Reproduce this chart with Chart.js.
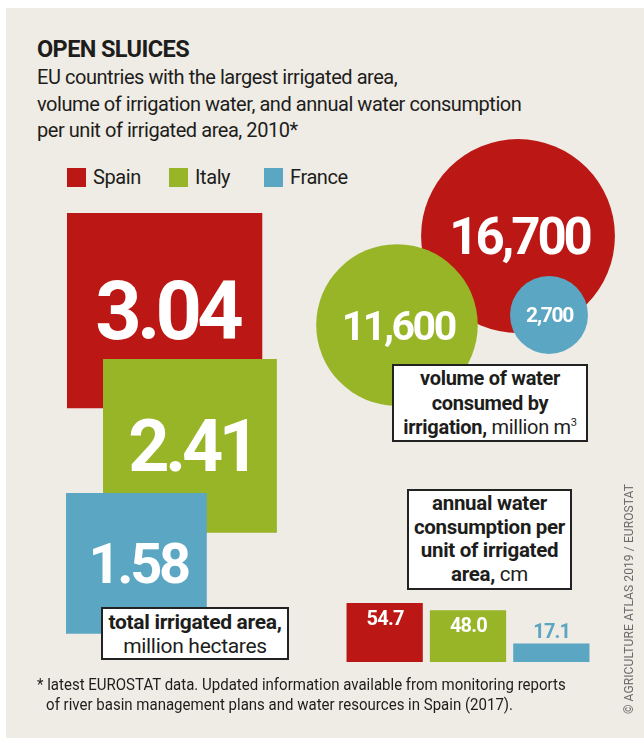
<!DOCTYPE html>
<html>
<head>
<meta charset="utf-8">
<script src="https://cdn.jsdelivr.net/npm/chart.js@4.4.1/dist/chart.umd.min.js"></script>
<style>
  body { margin: 0; background: #fff; font-family: Roboto, "Liberation Sans", sans-serif; color: #1d1d1b; }
  #page { position: relative; width: 644px; height: 738px; overflow: hidden; }
  #panel { position: absolute; left: 6px; top: 8px; right: 0; bottom: 0; background: #efebe5; }
  canvas { position: absolute; }
  .txt { position: absolute; white-space: nowrap; }
  .title { left: 37px; top: 37px; font-size: 23.5px; line-height: 24px; font-weight: 700; letter-spacing: -0.6px; }
  .sub { left: 37px; top: 64px; font-size: 20px; line-height: 26.5px; letter-spacing: -0.45px; }
  .legend { top: 167px; height: 21px; font-size: 20px; line-height: 21px; letter-spacing: -0.4px; }
  .legend i { position: absolute; top: 1px; width: 19px; height: 19px; }
  .legend span { position: absolute; left: 26px; }
  .box { position: absolute; box-sizing: border-box; border: 2px solid #222; background: #fff;
         text-align: center; white-space: nowrap; letter-spacing: -0.3px; }
  .box b { font-weight: 700; }
  .note { left: 37px; top: 675px; font-size: 16.5px; line-height: 20px; transform: scaleX(0.91); transform-origin: 0 0; }
  .note .l2 { padding-left: 10px; }
  .credit { left: 622px; top: 714px; width: 210px; font-size: 12px; line-height: 14px; color: #6b6b6b;
            transform: rotate(-90deg); transform-origin: 0 0; letter-spacing: 0.1px; }
</style>
</head>
<body>
<div id="page">
  <div id="panel"></div>

  <div class="txt title">OPEN SLUICES</div>
  <div class="txt sub">EU countries with the largest irrigated area,<br>volume of irrigation water, and annual water consumption<br>per unit of irrigated area, 2010*</div>

  <div id="legend"></div>

  <canvas id="shapes" width="644" height="738" style="left:0;top:0;width:644px;height:738px"></canvas>
  <canvas id="bars" width="250" height="70" style="left:343px;top:592px;width:250px;height:70px"></canvas>

  <div class="box" style="left:101px;top:607px;width:188px;height:53px;padding-top:1px;font-size:21px;line-height:24px">
    <b>total irrigated area,</b><br>million hectares</div>
  <div class="box" style="left:392px;top:364px;width:196px;height:78px;padding-top:0;font-size:20px;line-height:24.5px">
    <b>volume of water<br>consumed by<br>irrigation,</b> million m<sup style="font-size:11px;line-height:0;vertical-align:8px">3</sup></div>
  <div class="box" style="left:407px;top:489px;width:165px;height:101px;padding-top:1px;font-size:20.5px;line-height:23.7px">
    <b>annual water<br>consumption per<br>unit of irrigated<br>area,</b> cm</div>

  <div class="txt note">* latest EUROSTAT data. Updated information available from monitoring reports<br><span class="l2">of river basin management plans and water resources in Spain (2017).</span></div>
  <div class="txt credit">© AGRICULTURE ATLAS 2019 / EUROSTAT</div>
</div>

<script>
// Data, 2010 (EUROSTAT)
const countries    = ["Spain", "Italy", "France"];
const areaValues   = [3.04, 2.41, 1.58];        // total irrigated area, million ha
const volumeValues = [16700, 11600, 2700];      // water consumed by irrigation, million m3
const depthValues  = [54.7, 48.0, 17.1];        // annual consumption per unit area, cm

// Styles and layout
const colors   = ["#bb1714", "#97b526", "#5ba6c2"];
const AREA_PX  = 112;    // square side per sqrt(million ha)
const VOL_PX   = 0.75;   // circle radius per sqrt(million m3)
const BAR_PX   = 1.08;   // bar height per cm
const squareCorners = [[67, 213], [103, 359], [66, 493]];
const circleCentres = [[518, 236], [397, 325], [549, 315]];
const squareFont = [81, 72, 56];
const circleFont = [51, 41, 21];
const legendX    = [67, 169, 264];

// Legend
document.getElementById("legend").innerHTML = countries.map((c, i) => `
  <div class="txt legend" style="left:${legendX[i]}px">
    <i style="background:${colors[i]}"></i><span>${c}</span>
  </div>`).join("");

// White value labels centred on each shape
const shapeLabels = {
  id: "shapeLabels",
  afterDatasetsDraw(chart) {
    const ctx = chart.ctx;
    chart.data.datasets.forEach((ds, i) => {
      chart.getDatasetMeta(i).data.forEach((el, j) => {
        const size = ds.fontSizes[j];
        const ls = -0.06 * size;
        ctx.save();
        ctx.font = `700 ${size}px Roboto, "Liberation Sans", sans-serif`;
        ctx.letterSpacing = `${ls}px`;
        ctx.fillStyle = "#fff";
        ctx.textAlign = "center";
        ctx.fillText(ds.texts[j], el.x - ls / 2, el.y + size * 0.355);
        ctx.restore();
      });
    });
  }
};

new Chart(document.getElementById("shapes"), {
  type: "bubble",
  data: {
    datasets: [
      {
        data: areaValues.map((v, i) => {
          const side = Math.sqrt(v) * AREA_PX;
          return { x: squareCorners[i][0] + side / 2, y: squareCorners[i][1] + side / 2, r: side / Math.SQRT2 };
        }),
        backgroundColor: colors, pointStyle: "rect", borderWidth: 0, clip: false,
        texts: areaValues.map(v => v.toFixed(2)), fontSizes: squareFont
      },
      {
        data: volumeValues.map((v, i) => ({ x: circleCentres[i][0], y: circleCentres[i][1], r: Math.sqrt(v) * VOL_PX })),
        backgroundColor: colors, borderWidth: 0, clip: false,
        texts: volumeValues.map(v => v.toLocaleString("en-US")), fontSizes: circleFont
      }
    ]
  },
  options: {
    responsive: false, animation: false, events: [],
    layout: { padding: 0, autoPadding: false },
    plugins: { legend: { display: false }, tooltip: { enabled: false } },
    scales: {
      x: { type: "linear", min: 0, max: 644, display: false },
      y: { type: "linear", min: 0, max: 738, reverse: true, display: false }
    }
  },
  plugins: [shapeLabels]
});

// Bar labels: inside the bar when it is tall enough, above it otherwise
const barLabels = {
  id: "barLabels",
  afterDatasetsDraw(chart) {
    const ctx = chart.ctx;
    chart.getDatasetMeta(0).data.forEach((el, i) => {
      const inside = el.base - el.y > 30;
      ctx.save();
      ctx.font = `700 20px Roboto, "Liberation Sans", sans-serif`;
      ctx.letterSpacing = "-0.8px";
      ctx.textAlign = "center";
      ctx.fillStyle = inside ? "#fff" : colors[i];
      ctx.fillText(depthValues[i].toFixed(1), el.x + 0.4, inside ? el.y + 22 : el.y - 6);
      ctx.restore();
    });
  }
};

new Chart(document.getElementById("bars"), {
  type: "bar",
  data: {
    labels: countries,
    datasets: [{ data: depthValues, backgroundColor: colors, barPercentage: 0.915, categoryPercentage: 1 }]
  },
  options: {
    responsive: false, animation: false, events: [],
    layout: { padding: 0 },
    plugins: { legend: { display: false }, tooltip: { enabled: false } },
    scales: {
      x: { display: false },
      y: { display: false, min: 0, max: 70 / BAR_PX }
    }
  },
  plugins: [barLabels]
});
</script>
</body>
</html>
